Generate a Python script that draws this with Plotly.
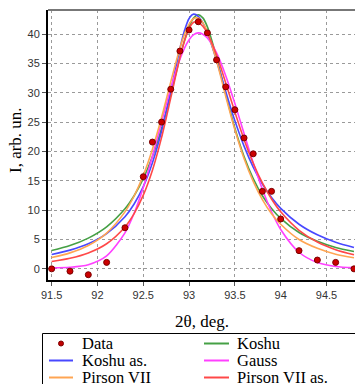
import plotly.graph_objects as go

# ---- data ----
data_x = [91.5, 91.7, 91.9, 92.1, 92.3, 92.5, 92.6, 92.7, 92.8, 92.9, 93.0, 93.1, 93.2,
          93.3, 93.4, 93.5, 93.6, 93.7, 93.8, 93.9, 94.0, 94.2, 94.4, 94.6, 94.8]
data_y = [0.0, -0.4, -1.0, 1.1, 7.0, 15.7, 21.6, 25.0, 30.6, 37.1, 40.7, 42.1, 40.2,
          35.6, 31.0, 27.1, 22.3, 19.6, 13.2, 13.2, 8.5, 3.1, 1.5, 1.1, 0.0]

fit_x = [91.5, 91.7, 91.9, 92.1, 92.3, 92.4, 92.5, 92.6, 92.7, 92.8, 92.9, 92.95, 93.0,
         93.05, 93.1, 93.15, 93.2, 93.3, 93.4, 93.5, 93.6, 93.7, 93.8, 93.9, 94.0,
         94.2, 94.4, 94.6, 94.8]

koshu = [3.11, 3.97, 5.24, 7.16, 10.23, 12.46, 15.37, 19.13, 23.95, 29.77, 36.02, 38.88, 41.22,
         42.76, 43.3, 42.76, 41.22, 36.02, 29.77, 23.95, 19.13, 15.37, 12.46, 10.3, 8.6,
         6.2, 4.7, 3.65, 2.95]
koshu_as = [2.46, 3.19, 4.27, 5.99, 8.87, 11.05, 14.02, 18.07, 23.48, 30.29, 37.54, 40.59, 42.66,
            43.4, 43.02, 41.91, 40.18, 35.50, 30.22, 25.22, 20.90, 17.33, 14.45, 12.15, 10.30,
            7.60, 5.80, 4.54, 3.65]
gauss = [0.17, 0.27, 0.70, 2.20, 6.12, 9.47, 13.87, 19.19, 25.03, 30.79, 35.71, 37.61, 39.03,
         39.90, 40.2, 39.98, 39.32, 36.78, 32.90, 28.16, 23.06, 18.07, 13.55, 9.73, 6.71,
         2.83, 1.07, 0.41, 0.21]
pirson = [1.92, 2.72, 3.99, 6.10, 9.71, 12.41, 15.92, 20.39, 25.82, 31.86, 37.62, 39.95, 41.68,
          42.64, 42.73, 41.94, 40.36, 35.43, 29.41, 23.7, 18.8, 14.9, 11.8, 9.4, 7.6,
          5.0, 3.5, 2.5, 1.9]
pirson_as = [1.25, 1.80, 2.71, 4.28, 7.14, 9.41, 12.55, 16.81, 22.40, 29.12, 35.98, 38.85, 40.94,
             42.00, 41.99, 41.34, 40.13, 36.42, 31.68, 26.70, 22.05, 18.00, 14.63, 11.90, 9.71,
             6.57, 4.57, 3.27, 2.40]

x_ticks = [91.5, 92, 92.5, 93, 93.5, 94, 94.5]
x_tick_text = ["91.5", "92", "92.5", "93", "93.5", "94", "94.5"]
y_ticks = [0, 5, 10, 15, 20, 25, 30, 35, 40]

series = [
    ("Koshu", koshu, "#45a045"),
    ("Koshu as.", koshu_as, "#4848ff"),
    ("Gauss", gauss, "#ff40ff"),
    ("Pirson VII", pirson, "#ffa552"),
    ("Pirson VII as.", pirson_as, "#ff4848"),
]
legend_layout = [
    ("Data", None, "#c00000", 0, 0),
    ("Koshu", "#45a045", None, 1, 0),
    ("Koshu as.", "#4848ff", None, 0, 1),
    ("Gauss", "#ff40ff", None, 1, 1),
    ("Pirson VII", "#ffa552", None, 0, 2),
    ("Pirson VII as.", "#ff4848", None, 1, 2),
]

W, H = 355, 384
L, R, T, B = 48, 0, 10, 104
PW, PH = W - L - R, H - T - B


def px_x(p):
    return (p - L) / PW


def px_y(p):
    return (H - B - p) / PH


fig = go.Figure()
for name, vals, col in series:
    fig.add_trace(go.Scatter(x=fit_x, y=vals, mode="lines", name=name,
                             line=dict(color=col, width=1.6, shape="spline", smoothing=0.8),
                             showlegend=False))
fig.add_trace(go.Scatter(x=data_x, y=data_y, mode="markers", name="Data",
                         marker=dict(color="#cc0000", size=6, line=dict(color="#7a0000", width=1)),
                         showlegend=False))

shapes = []
annotations = []
# top border
shapes.append(dict(type="line", xref="paper", yref="paper", x0=0, x1=1.02, y0=1, y1=1,
                   line=dict(color="#777777", width=2)))
# legend box
shapes.append(dict(type="rect", xref="paper", yref="paper",
                   x0=px_x(42.5), x1=px_x(362), y0=px_y(333.5), y1=px_y(398),
                   line=dict(color="black", width=1), fillcolor="white", layer="above"))
row_y = [343.5, 360.5, 377.5]
col_line = [(49, 73), (204, 229)]
col_text = [80, 235]
for label, lcol, mcol, c, r in legend_layout:
    yy = px_y(row_y[r])
    x0, x1 = col_line[c]
    if lcol is not None:
        shapes.append(dict(type="line", xref="paper", yref="paper",
                           x0=px_x(x0), x1=px_x(x1), y0=yy, y1=yy,
                           line=dict(color=lcol, width=2), layer="above"))
    else:
        cx = (x0 + x1) / 2
        shapes.append(dict(type="circle", xref="paper", yref="paper",
                           x0=px_x(cx - 2.5), x1=px_x(cx + 2.5),
                           y0=px_y(row_y[r] - 2.5), y1=px_y(row_y[r] + 2.5),
                           line=dict(color="#800000", width=1), fillcolor=mcol, layer="above"))
    annotations.append(dict(xref="paper", yref="paper", x=px_x(col_text[c]), y=yy,
                            text=label, showarrow=False, xanchor="left", yanchor="middle",
                            font=dict(family="Liberation Serif", size=16.5, color="black")))

annotations.append(dict(xref="paper", yref="paper", x=0.5, y=px_y(321), text="2θ, deg.",
                        showarrow=False, xanchor="center", yanchor="middle",
                        font=dict(family="Liberation Serif", size=17, color="black")))
annotations.append(dict(xref="paper", yref="paper", x=px_x(15), y=px_y(140), text="I, arb. un.",
                        showarrow=False, xanchor="center", yanchor="middle", textangle=-90,
                        font=dict(family="Liberation Serif", size=17, color="black")))

axis_common = dict(showgrid=True, gridcolor="#9a9a9a", gridwidth=1.3, griddash="dot",
                   zeroline=False, showline=True, linecolor="black", linewidth=2,
                   ticks="outside", ticklen=4, tickcolor="#555",
                   tickfont=dict(family="Liberation Sans", size=11, color="#333"))

fig.update_layout(
    width=W, height=H,
    margin=dict(l=L, r=R, t=T, b=B),
    paper_bgcolor="white", plot_bgcolor="white",
    showlegend=False,
    xaxis=dict(range=[91.46, 94.811], tickvals=x_ticks, ticktext=x_tick_text, **axis_common),
    yaxis=dict(range=[-1.9, 44.1], tickvals=y_ticks, **axis_common),
    shapes=shapes,
    annotations=annotations,
)

fig.write_html("out.html")
